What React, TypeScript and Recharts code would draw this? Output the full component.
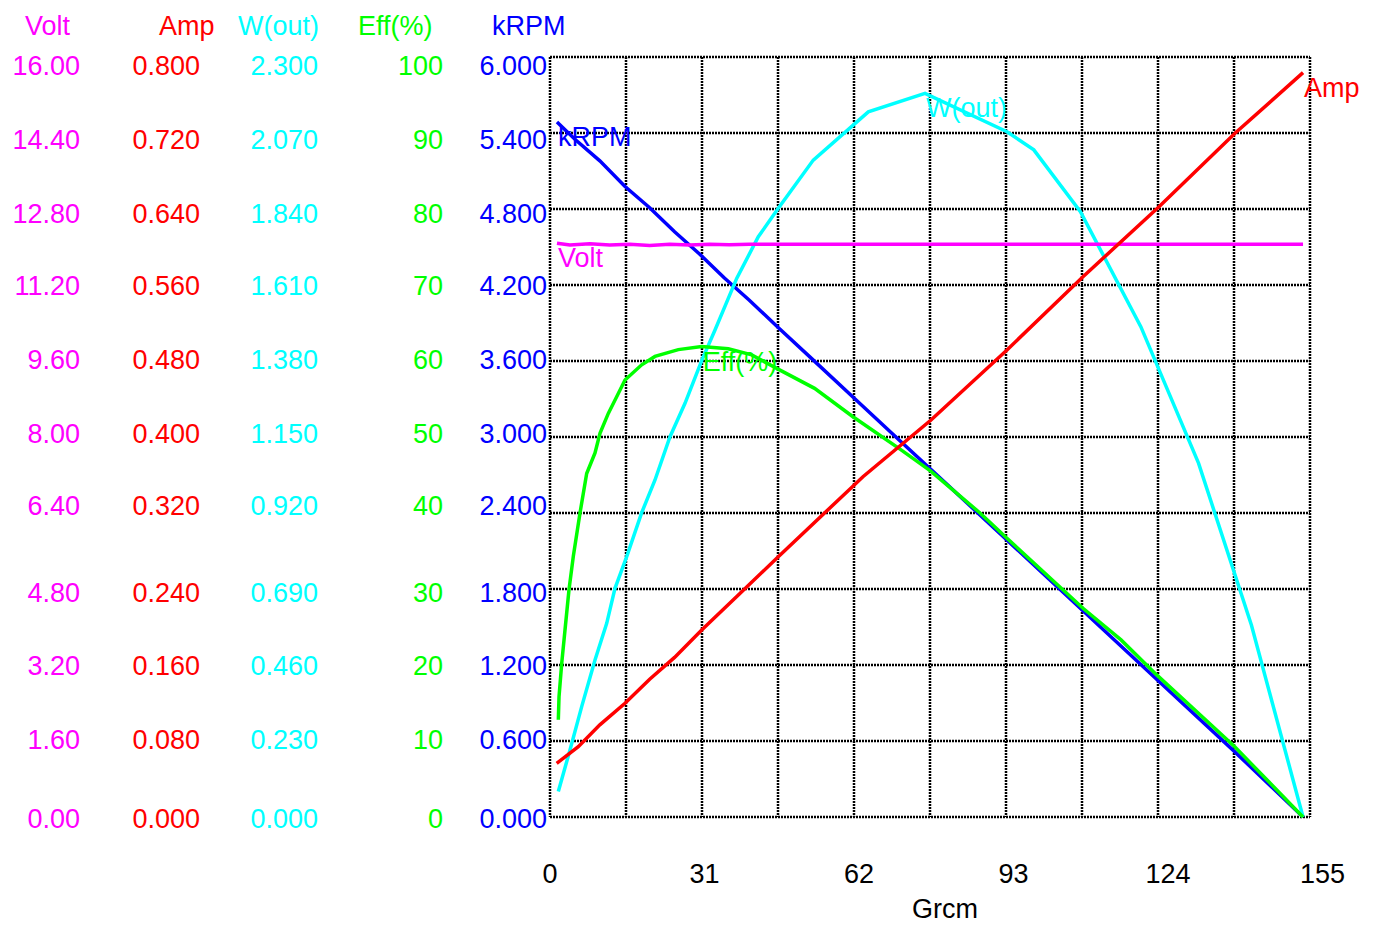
import React from 'react';
import { LineChart, Line, XAxis, YAxis, CartesianGrid } from 'recharts';

// ---------- data ----------
const xTicks = [0, 31, 62, 93, 124, 155];

const voltTicks = [0, 1.6, 3.2, 4.8, 6.4, 8, 9.6, 11.2, 12.8, 14.4, 16];
const ampTicks = [0, 0.08, 0.16, 0.24, 0.32, 0.4, 0.48, 0.56, 0.64, 0.72, 0.8];
const wTicks = [0, 0.23, 0.46, 0.69, 0.92, 1.15, 1.38, 1.61, 1.84, 2.07, 2.3];
const effTicks = [0, 10, 20, 30, 40, 50, 60, 70, 80, 90, 100];
const rpmTicks = [0, 0.6, 1.2, 1.8, 2.4, 3, 3.6, 4.2, 4.8, 5.4, 6];

const rpmTorque = [1.4, 5, 10, 15, 20, 25, 30, 35, 40, 46, 53, 61, 70, 79, 92, 107, 122, 137, 151.1];
const rpmValues = [5.487, 5.35, 5.18, 4.98, 4.81, 4.62, 4.445, 4.255, 4.08, 3.857, 3.601, 3.308, 2.979, 2.65, 2.175, 1.627, 1.078, 0.53, 0];

const voltTorque = [1.4, 4, 8, 12, 16, 20, 24, 28, 32, 36, 40, 151.1];
const voltValues = [12.08, 12.04, 12.07, 12.04, 12.06, 12.03, 12.06, 12.04, 12.06, 12.05, 12.06, 12.06];

const ampTorque = [1.34, 5.68, 10, 15.05, 20, 25, 30.44, 38, 45.81, 62.8, 76.45, 91.7, 106.95, 122.2, 137.45, 151.1];
const ampValues = [0.0565, 0.074, 0.097, 0.1197, 0.145, 0.168, 0.1968, 0.2347, 0.274, 0.3582, 0.4179, 0.4916, 0.5687, 0.6424, 0.7197, 0.7835];

const wTorque = [1.67, 4.01, 6.36, 9.03, 11.38, 13.04, 15.39, 18.4, 21.07, 24.08, 27.09, 30.44, 33.11, 37.46, 41.8, 45.81, 52.83, 63.87, 75.25, 91.7, 97.08, 106.43, 118.55, 130.15, 140.74, 151.1];
const wValues = [0.077, 0.203, 0.334, 0.475, 0.586, 0.692, 0.788, 0.921, 1.02, 1.151, 1.252, 1.381, 1.474, 1.63, 1.756, 1.842, 1.988, 2.134, 2.19, 2.074, 2.019, 1.832, 1.484, 1.07, 0.581, 0];

const effTorque = [1.67, 1.81, 2.35, 3.01, 3.81, 4.68, 6.02, 7.36, 9.03, 10.03, 11.7, 13.38, 15.05, 18.4, 21.07, 25.74, 30.44, 35.78, 40.47, 46.15, 53.09, 60.72, 70.23, 76.4, 86.28, 91.64, 106.89, 114.58, 121.74, 137.45, 151.1];
const effValues = [12.8, 15.8, 20.2, 24.6, 29.9, 34.3, 40.0, 45.2, 47.9, 50.5, 53.1, 55.3, 57.5, 59.5, 60.6, 61.5, 61.9, 61.6, 60.8, 58.8, 56.4, 52.7, 48.4, 45.5, 40.0, 36.7, 27.5, 23.3, 18.7, 9.2, 0];

// ---------- styling ----------
const FONT = '"Liberation Sans", Arial, Helvetica, sans-serif';
const FS = 27;
const C_VOLT = '#ff00ff';
const C_AMP = '#ff0000';
const C_W = '#00ffff';
const C_EFF = '#00ff00';
const C_RPM = '#0000ff';
const LINE_W = 3.5;
const tickNudge = [1, -2, 0, 3, -8, -4, -2, 0, 4, 6, 8];

const build = (xs: number[], ys: number[]) => xs.map((t, i) => ({ t, v: ys[i] }));
const rpmData = build(rpmTorque, rpmValues);
const voltData = build(voltTorque, voltValues);
const ampData = build(ampTorque, ampValues);
const wData = build(wTorque, wValues);
const effData = build(effTorque, effValues);

const maxIndex = (arr: number[]) => arr.indexOf(Math.max(...arr));

const makeYTick = (color: string, digits: number) => (props: any) => {
  const { x, y, payload, index } = props;
  return (
    <text
      x={x}
      y={y + (tickNudge[index] || 0)}
      dy="0.355em"
      textAnchor="end"
      fill={color}
      fontSize={FS}
      fontFamily={FONT}
    >
      {Number(payload.value).toFixed(digits)}
    </text>
  );
};

const makeHeader = (text: string, color: string, dx: number) => (props: any) => {
  const vb = props.viewBox || {};
  return (
    <text x={(vb.x || 0) + dx} y={(vb.y || 57) - 22} textAnchor="start" fill={color} fontSize={FS} fontFamily={FONT}>
      {text}
    </text>
  );
};

const makeSeriesLabel = (text: string, color: string, idx: number) => (props: any) => {
  const { x, y, index } = props;
  if (index !== idx) return <g />;
  return (
    <text x={x + 1} y={y + 24} fill={color} fontSize={FS} fontFamily={FONT} textAnchor="start">
      {text}
    </text>
  );
};

const XTick = (props: any) => {
  const { x, y, payload } = props;
  return (
    <text x={x} y={y + 66} textAnchor="middle" fill="#000" fontSize={FS} fontFamily={FONT}>
      {payload.value}
    </text>
  );
};

const XLabel = (props: any) => {
  const vb = props.viewBox || {};
  return (
    <text x={(vb.x || 550) + (vb.width || 760) / 2 + 15} y={918} textAnchor="middle" fill="#000" fontSize={FS} fontFamily={FONT}>
      Grcm
    </text>
  );
};

const gridV = ({ offset }: any) => Array.from({ length: 11 }, (_, i) => offset.left + (offset.width * i) / 10);
const gridH = ({ offset }: any) => Array.from({ length: 11 }, (_, i) => offset.top + (offset.height * i) / 10);

export default function App() {
  return (
    <div style={{ position: 'absolute', left: 0, top: 0, width: 1382, height: 925, background: '#fff' }}>
      <LineChart width={1382} height={925} margin={{ top: 57, right: 72, bottom: 0, left: 0 }}>
        <CartesianGrid
          stroke="#000"
          strokeWidth={2.5}
          strokeDasharray="2 1"
          verticalCoordinatesGenerator={gridV}
          horizontalCoordinatesGenerator={gridH}
        />
        <XAxis
          type="number"
          dataKey="t"
          domain={[0, 152.5]}
          ticks={xTicks}
          interval={0}
          allowDataOverflow
          axisLine={false}
          tickLine={false}
          tickSize={0}
          tickMargin={0}
          height={108}
          tick={XTick}
          label={XLabel}
        />
        <YAxis
          yAxisId="a_rpm"
          domain={[0, 6]}
          ticks={rpmTicks}
          interval={0}
          width={104}
          axisLine={false}
          tickLine={false}
          tickSize={0}
          tickMargin={3}
          tick={makeYTick(C_RPM, 3)}
          label={makeHeader('kRPM', C_RPM, 46)}
        />
        <YAxis
          yAxisId="b_eff"
          domain={[0, 100]}
          ticks={effTicks}
          interval={0}
          width={125}
          axisLine={false}
          tickLine={false}
          tickSize={0}
          tickMargin={3}
          tick={makeYTick(C_EFF, 0)}
          label={makeHeader('Eff(%)', C_EFF, 37)}
        />
        <YAxis
          yAxisId="c_w"
          domain={[0, 2.3]}
          ticks={wTicks}
          interval={0}
          width={118}
          axisLine={false}
          tickLine={false}
          tickSize={0}
          tickMargin={3}
          tick={makeYTick(C_W, 3)}
          label={makeHeader('W(out)', C_W, 35)}
        />
        <YAxis
          yAxisId="d_amp"
          domain={[0, 0.8]}
          ticks={ampTicks}
          interval={0}
          width={120}
          axisLine={false}
          tickLine={false}
          tickSize={0}
          tickMargin={3}
          tick={makeYTick(C_AMP, 3)}
          label={makeHeader('Amp', C_AMP, 76)}
        />
        <YAxis
          yAxisId="e_volt"
          domain={[0, 16]}
          ticks={voltTicks}
          interval={0}
          width={83}
          axisLine={false}
          tickLine={false}
          tickSize={0}
          tickMargin={3}
          tick={makeYTick(C_VOLT, 2)}
          label={makeHeader('Volt', C_VOLT, 25)}
        />
        <Line
          yAxisId="a_rpm"
          data={rpmData}
          dataKey="v"
          type="linear"
          stroke={C_RPM}
          strokeWidth={LINE_W}
          dot={false}
          isAnimationActive={false}
          label={makeSeriesLabel('kRPM', C_RPM, maxIndex(rpmValues))}
        />
        <Line
          yAxisId="c_w"
          data={wData}
          dataKey="v"
          type="linear"
          stroke={C_W}
          strokeWidth={LINE_W}
          dot={false}
          isAnimationActive={false}
          label={makeSeriesLabel('W(out)', C_W, maxIndex(wValues))}
        />
        <Line
          yAxisId="b_eff"
          data={effData}
          dataKey="v"
          type="linear"
          stroke={C_EFF}
          strokeWidth={LINE_W}
          dot={false}
          isAnimationActive={false}
          label={makeSeriesLabel('Eff(%)', C_EFF, maxIndex(effValues))}
        />
        <Line
          yAxisId="e_volt"
          data={voltData}
          dataKey="v"
          type="linear"
          stroke={C_VOLT}
          strokeWidth={LINE_W}
          dot={false}
          isAnimationActive={false}
          label={makeSeriesLabel('Volt', C_VOLT, maxIndex(voltValues))}
        />
        <Line
          yAxisId="d_amp"
          data={ampData}
          dataKey="v"
          type="linear"
          stroke={C_AMP}
          strokeWidth={LINE_W}
          dot={false}
          isAnimationActive={false}
          label={makeSeriesLabel('Amp', C_AMP, maxIndex(ampValues))}
        />
      </LineChart>
    </div>
  );
}
